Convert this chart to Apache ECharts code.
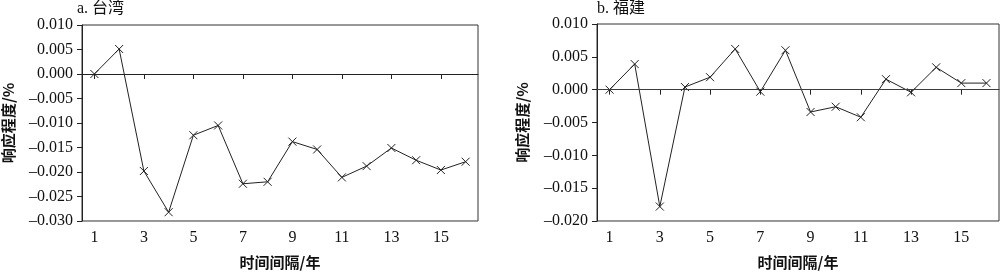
<!DOCTYPE html>
<html><head><meta charset="utf-8">
<script src="https://cdn.jsdelivr.net/npm/echarts@6/dist/echarts.min.js"></script>
<style>html,body{margin:0;padding:0;background:#fff}#c{width:1000px;height:275px}</style>
</head><body><div id="c"></div>
<script>
const years = ['1','2','3','4','5','6','7','8','9','10','11','12','13','14','15','16'];
const taiwan = [0.0000, 0.0051, -0.0198, -0.0282, -0.0125, -0.0105, -0.0224, -0.0220, -0.0138, -0.0154, -0.0211, -0.0188, -0.0151, -0.0176, -0.0196, -0.0179];
const fujian = [0.0000, 0.0039, -0.0178, 0.0004, 0.0019, 0.0062, -0.0003, 0.0060, -0.0034, -0.0026, -0.0042, 0.0016, -0.0004, 0.0034, 0.0010, 0.0010];
const titles = ['a. 台湾', 'b. 福建'];
const yName = '响应程度/%';
const xName = '时间间隔/年';

const FONT = '"Liberation Serif", "Noto Sans CJK SC", serif';
const CJK = '"Noto Sans CJK SC", sans-serif';
const cross = 'path://M0,0L10,10M10,0L0,10';
const chart = echarts.init(document.getElementById('c'));

function fmt(v){ const s = Math.abs(v).toFixed(3); return v < -1e-9 ? '\u2013' + s : s; }

function xAx(gi){
  return {type:'category', gridIndex:gi, data:years, boundaryGap:true,
    axisLine:{lineStyle:{color:'#222', width:1}},
    axisTick:{show:true, alignWithLabel:true, interval:1, length:5, lineStyle:{color:'#222'}},
    axisLabel:{interval:1, color:'#111', fontFamily:FONT, fontSize:16, margin:9},
    name:xName, nameLocation:'middle', nameGap:34,
    nameTextStyle:{fontFamily:CJK, fontWeight:'bold', fontSize:15, color:'#111'}};
}
function yAx(gi, min){
  return {type:'value', gridIndex:gi, min:min, max:0.01, interval:0.005,
    axisLine:{show:true, lineStyle:{color:'#222', width:1}},
    axisTick:{show:true, length:5, lineStyle:{color:'#222'}},
    splitLine:{show:false},
    axisLabel:{formatter:fmt, color:'#111', fontFamily:FONT, fontSize:16, margin:9},
    name:yName, nameLocation:'middle', nameGap:gi===0?66:67, nameRotate:90,
    nameTextStyle:{fontFamily:CJK, fontWeight:'bold', fontSize:15, color:'#111'}};
}
function ser(gi, data, zc, zw){
  return {type:'line', xAxisIndex:gi, yAxisIndex:gi, data:data,
    symbol:cross, symbolSize:8, showSymbol:true,
    itemStyle:{color:'rgba(0,0,0,0)', borderColor:'#222', borderWidth:1},
    lineStyle:{color:'#222', width:1}, animation:false,
    markLine:{silent:true, symbol:'none', label:{show:false},
      lineStyle:{color:zc, width:zw, type:'solid'}, data:[{yAxis:0}]}};
}

chart.setOption({
  animation:false,
  grid:[
    {left:78, right:522, top:25, bottom:48, show:true, borderColor:'#333', borderWidth:1, backgroundColor:'transparent'},
    {left:597, right:1, top:24, bottom:47, show:true, borderColor:'#333', borderWidth:1, backgroundColor:'transparent'}
  ],
  xAxis:[xAx(0), xAx(1)],
  yAxis:[yAx(0,-0.03), yAx(1,-0.02)],
  series:[ser(0, taiwan, '#222', 1.2), ser(1, fujian, '#444', 0.8)],
  graphic:[
    {type:'text', left:77, top:1, style:{text:titles[0], font:'16px ' + FONT, fill:'#111'}},
    {type:'text', left:597, top:1, style:{text:titles[1], font:'16px ' + FONT, fill:'#111'}}
  ]
});
</script></body></html>
